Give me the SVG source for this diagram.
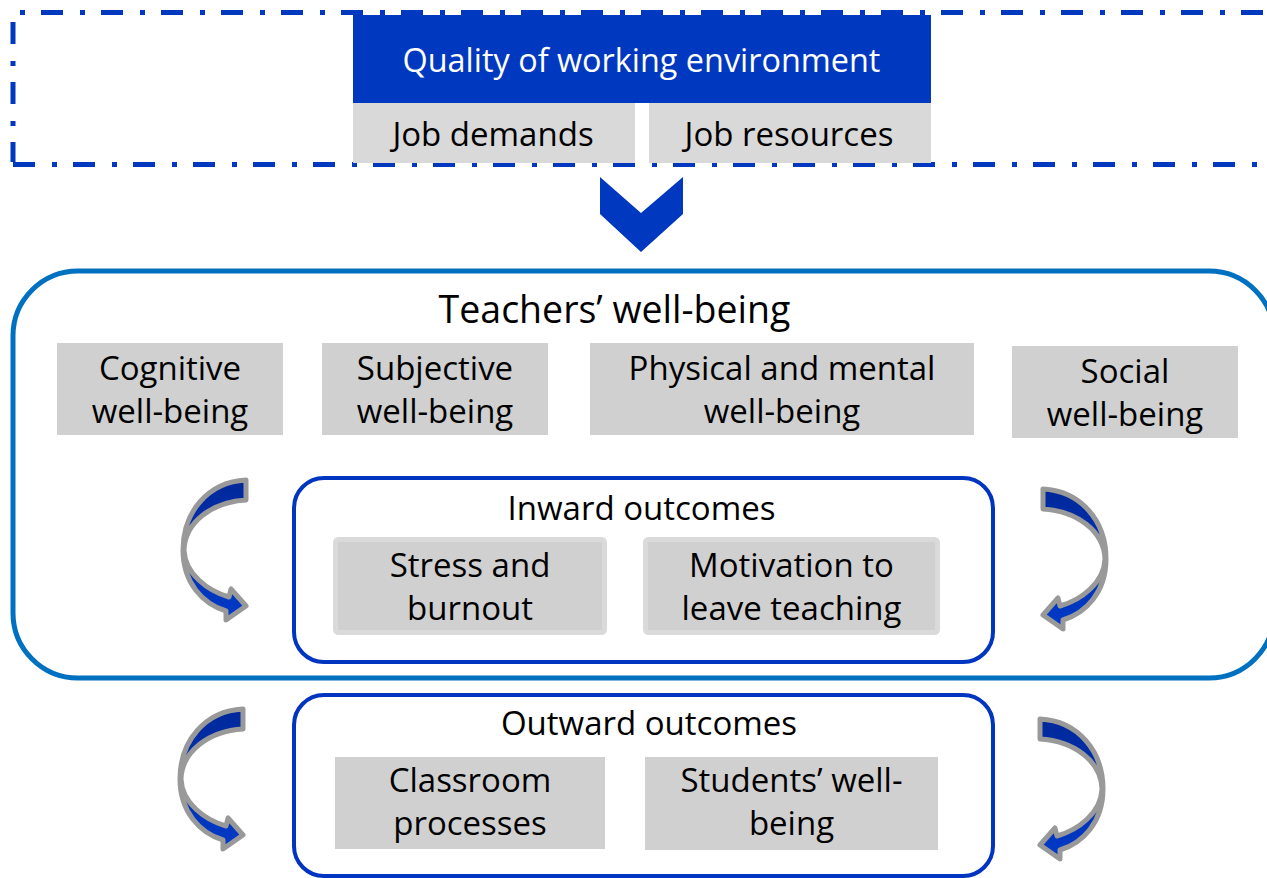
<svg xmlns="http://www.w3.org/2000/svg" width="1267" height="878" viewBox="0 0 1267 878">
<style>
text{font-family:"Open Sans","Noto Sans","Liberation Sans",sans-serif;fill:#000;text-anchor:middle}
.t33{font-size:33px}
.wb{fill:#d0d0d0}
.jb{fill:#d9d9d9}
.dash{fill:none;stroke:#0038c0;stroke-width:5;stroke-dasharray:22 17 5 16}
.out{fill:none;stroke:#0035c0;stroke-width:4}
.arr{stroke:#999;stroke-width:5;stroke-linejoin:round;fill:url(#ag)}
</style>
<defs>
<linearGradient id="ag" x1="0" y1="0" x2="0" y2="1">
<stop offset="0" stop-color="#00289a"/>
<stop offset="1" stop-color="#003ac8"/>
</linearGradient>
<path id="carrow" class="arr" d="M246,480 C208,482 183,512 183,550 C183,583 203,604 226,611 L226,620 L246,606 L231,589 L229,597 C208,591 185,574 184,550 C185,522 212,502 246,500 Z"/>
</defs>
<rect width="1267" height="878" fill="#fff"/>

<g id="environment-frame">
<path class="dash" d="M20,12.5 H1267" style="stroke-dasharray:5 16 22 17"/>
<path class="dash" d="M13,22 V162"/>
<path class="dash" d="M13,164.5 H1267"/>
</g>

<g id="quality">
<rect x="353" y="15" width="578" height="88" fill="#0038c0"/>
<text x="641.5" y="72" font-size="32.4" style="fill:#fff">Quality of working environment</text>
</g>
<g id="job-demands">
<rect class="jb" x="353" y="103" width="282" height="60"/>
<text class="t33" x="493" y="146">Job demands</text>
</g>
<g id="job-resources">
<rect class="jb" x="649" y="103" width="282" height="60"/>
<text class="t33" x="789" y="146">Job resources</text>
</g>

<g id="teachers-wellbeing">
<rect x="13" y="271" width="1261" height="407" rx="65" fill="none" stroke="#0070c0" stroke-width="5"/>
<text x="614.5" y="323" font-size="37.5">Teachers’ well-being</text>
</g>
<g id="cognitive">
<rect class="wb" x="57" y="343" width="226" height="92"/>
<text class="t33" x="170" y="380">Cognitive</text>
<text class="t33" x="170" y="423">well-being</text>
</g>
<g id="subjective">
<rect class="wb" x="322" y="343" width="226" height="92"/>
<text class="t33" x="435" y="380">Subjective</text>
<text class="t33" x="435" y="423">well-being</text>
</g>
<g id="physical-mental">
<rect class="wb" x="590" y="343" width="384" height="92"/>
<text class="t33" x="782" y="380">Physical and mental</text>
<text class="t33" x="782" y="423">well-being</text>
</g>
<g id="social">
<rect class="wb" x="1012" y="346" width="226" height="92"/>
<text class="t33" x="1125" y="383">Social</text>
<text class="t33" x="1125" y="426">well-being</text>
</g>

<g id="inward-outcomes">
<rect class="out" x="294" y="478" width="699" height="184" rx="30"/>
<text class="t33" x="641.5" y="520">Inward outcomes</text>
</g>
<g id="stress-burnout">
<rect x="335.5" y="539.5" width="269" height="93" rx="3" fill="#d0d0d0" stroke="#dadada" stroke-width="5"/>
<text class="t33" x="470" y="577">Stress and</text>
<text class="t33" x="470" y="620">burnout</text>
</g>
<g id="motivation-leave">
<rect x="645.5" y="539.5" width="292" height="93" rx="3" fill="#d0d0d0" stroke="#dadada" stroke-width="5"/>
<text class="t33" x="791.5" y="577">Motivation to</text>
<text class="t33" x="791.5" y="620">leave teaching</text>
</g>

<g id="outward-outcomes">
<rect class="out" x="294" y="695" width="699" height="181" rx="30"/>
<text class="t33" x="649" y="735">Outward outcomes</text>
</g>
<g id="classroom-processes">
<rect class="wb" x="335" y="757" width="270" height="92"/>
<text class="t33" x="470" y="792">Classroom</text>
<text class="t33" x="470" y="835">processes</text>
</g>
<g id="students-wellbeing">
<rect class="wb" x="645" y="757" width="293" height="93"/>
<text class="t33" x="791.5" y="792">Students’ well-</text>
<text class="t33" x="791.5" y="835">being</text>
</g>

<g id="connectors">
<polygon points="600,177 641,213 683,177 683,214 641,252 600,214" fill="#0038c0"/>
<use href="#carrow"/>
<use href="#carrow" transform="translate(-3,229)"/>
<use href="#carrow" transform="matrix(-1,0,0,1,1289,9)"/>
<use href="#carrow" transform="matrix(-1,0,0,1,1286,239)"/>
</g>
</svg>
